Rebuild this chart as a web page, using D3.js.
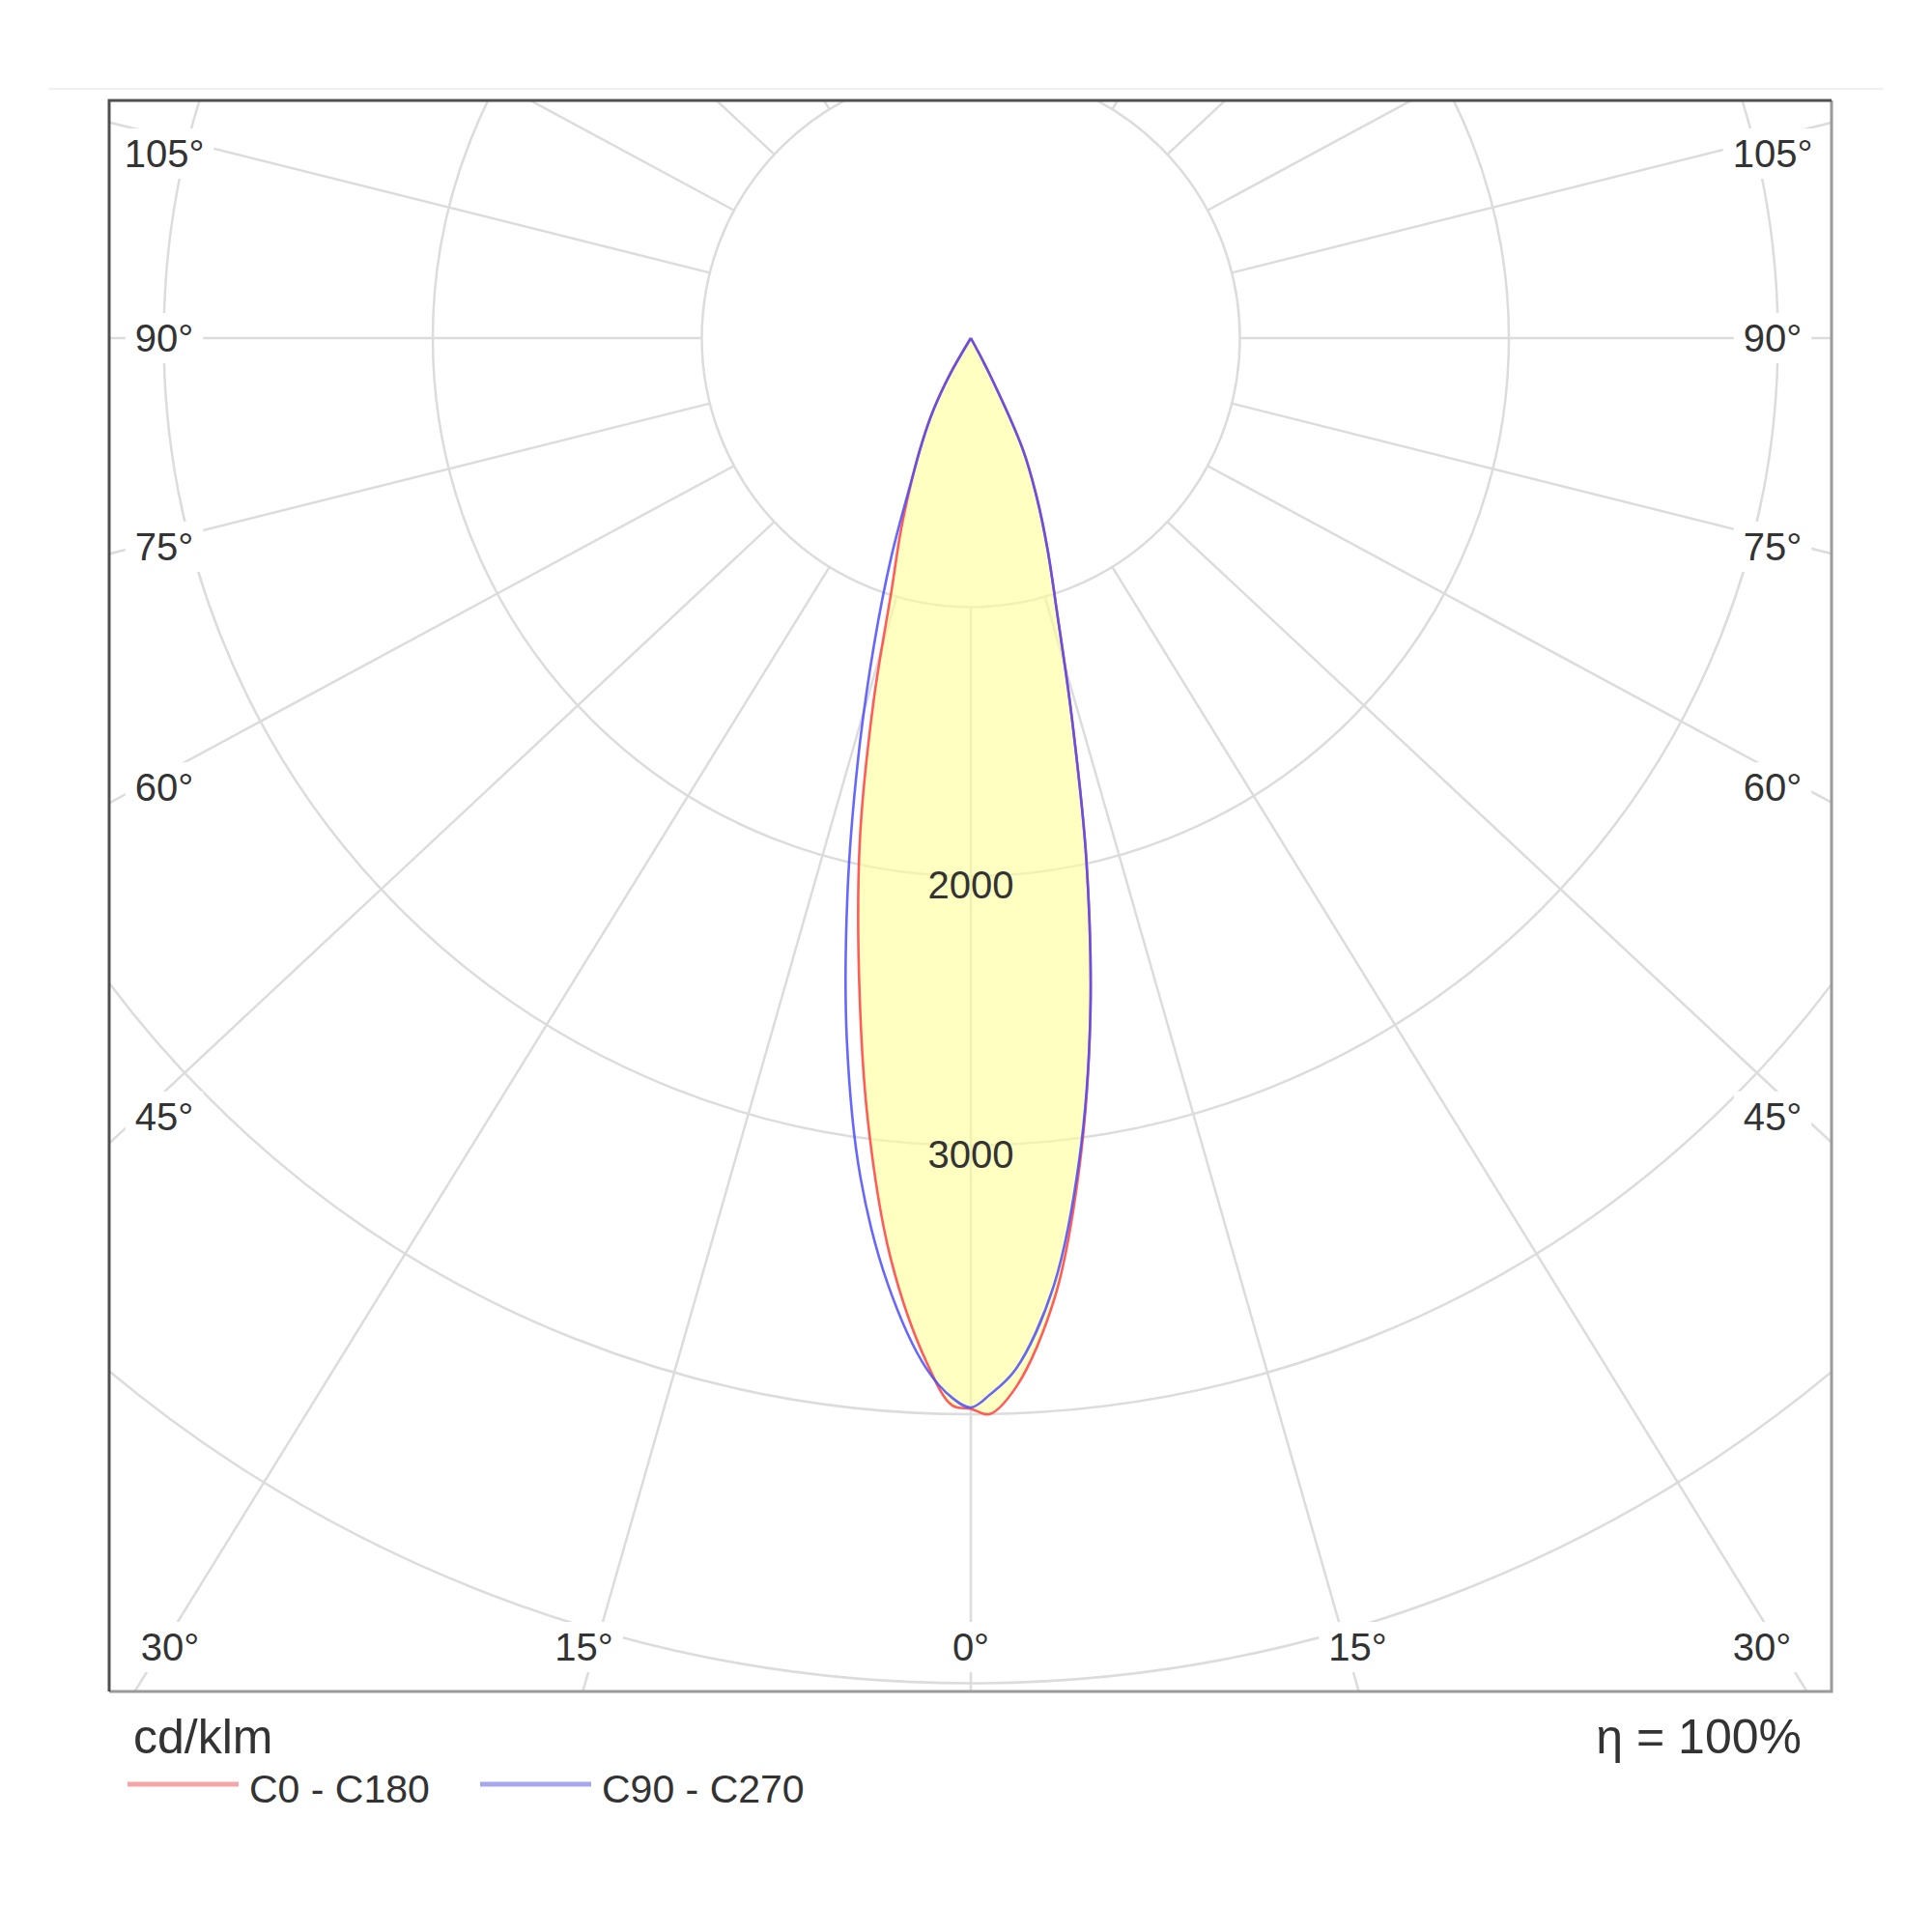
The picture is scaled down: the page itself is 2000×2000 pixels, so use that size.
<!DOCTYPE html>
<html>
<head>
<meta charset="utf-8">
<script src="https://cdn.jsdelivr.net/npm/d3@7"></script>
<style>
  body { margin: 0; background: #fff; }
  svg { display: block; }
  text { font-family: "Liberation Sans", Arial, sans-serif; fill: #333; }
</style>
</head>
<body>
<svg id="chart" width="2000" height="2000"></svg>
<script>
// gamma angle from nadir (deg) and intensity in cd/klm per half plane
const gamma = [0, 1, 2.5, 5, 7.5, 10, 12.5, 15, 17.5, 20, 22.5, 25, 27.5, 30, 32.5]
const c0    = [3980, 4000, 3900, 3580, 3100, 2558, 1983, 1442, 1063, 832, 640, 460, 150, 0, 0]
const c180  = [3980, 3968, 3807, 3430, 2933, 2395, 1904, 1396, 977, 760, 575, 430, 300, 150, 0]
const c90   = [3975, 3930, 3836, 3536, 3084, 2558, 1983, 1442, 1063, 832, 640, 460, 150, 0, 0]
const c270  = [3975, 3940, 3831, 3532, 3145, 2653, 2119, 1619, 1198, 863, 584, 430, 300, 150, 0]

const rings = [1000, 2000, 3000, 4000, 5000]
const ringLabels = [2000, 3000]
const spokes = d3.range(0, 181, 15)
const sideLabels = [45, 60, 75, 90, 105]
const bottomLabels = [-30, -15, 0, 15, 30]
const legend = [
  {name: "C0 - C180", color: "#f5a5a5"},
  {name: "C90 - C270", color: "#a7a7ef"}
]

const frame = {x0: 113, y0: 104, x1: 1896, y1: 1751}
const cx = 1005, cy = 350
const spread = 1.07   // spokes in the source are spread a little sideways
const rad = d => d * Math.PI / 180

const r = d3.scaleLinear().domain([0, 1000]).range([0, 278.5])

const svg = d3.select("#chart")

// faint rule above the frame
svg.append("line")
  .attr("x1", 50).attr("x2", 1950).attr("y1", 92).attr("y2", 92)
  .attr("stroke", "#f0f0f0").attr("stroke-width", 2)

svg.append("clipPath").attr("id", "clip")
  .append("rect")
    .attr("x", frame.x0).attr("y", frame.y0)
    .attr("width", frame.x1 - frame.x0).attr("height", frame.y1 - frame.y0)

const plot = svg.append("g").attr("clip-path", "url(#clip)")
const g = plot.append("g").attr("transform", `translate(${cx},${cy})`)

function spokeDir(deg, side) {
  let dx = side * spread * Math.sin(rad(deg)), dy = Math.cos(rad(deg))
  let n = Math.hypot(dx, dy)
  return [dx / n, dy / n]
}

// grid: rings and spokes
g.selectAll("circle.ring").data(rings)
  .join("circle")
    .classed("ring", true)
    .attr("r", d => r(d))
    .attr("fill", "none")
    .attr("stroke", "#dcdcdc")
    .attr("stroke-width", 2.5)

let spokeData = []
spokes.forEach(a => {
  if (a == 0 || a == 180) spokeData.push({a: a, side: 1})
  else { spokeData.push({a: a, side: -1}); spokeData.push({a: a, side: 1}) }
})
g.selectAll("line.spoke").data(spokeData)
  .join("line")
    .classed("spoke", true)
    .attr("x1", d => spokeDir(d.a, d.side)[0] * r(1000))
    .attr("y1", d => spokeDir(d.a, d.side)[1] * r(1000))
    .attr("x2", d => spokeDir(d.a, d.side)[0] * r(9000))
    .attr("y2", d => spokeDir(d.a, d.side)[1] * r(9000))
    .attr("stroke", "#dcdcdc")
    .attr("stroke-width", 2.5)

// curves
function halfPlanes(left, right) {
  let pts = []
  for (let i = gamma.length - 1; i >= 0; i--) pts.push({a: Math.PI + rad(gamma[i]), v: left[i]})
  for (let i = 1; i < gamma.length; i++) pts.push({a: Math.PI - rad(gamma[i]), v: right[i]})
  // drop repeated points at the pole
  return pts.filter((p, i) => i == 0 || p.v > 0 || pts[i - 1].v > 0)
}
const radial = d3.lineRadial()
  .angle(d => d.a)
  .radius(d => r(d.v))
  .curve(d3.curveCatmullRom)

const planeA = halfPlanes(c180, c0)
const planeB = halfPlanes(c270, c90)

g.append("path")
  .attr("d", radial(planeA) + "Z")
  .attr("fill", "#ffff99")
  .attr("fill-opacity", 0.6)

g.append("path")
  .attr("d", radial(planeA))
  .attr("fill", "none")
  .attr("stroke", "#ff4a4a")
  .attr("stroke-opacity", 0.9)
  .attr("stroke-width", 2.6)

g.append("path")
  .attr("d", radial(planeB))
  .attr("fill", "none")
  .attr("stroke", "#4c4cff")
  .attr("stroke-opacity", 0.85)
  .attr("stroke-width", 2.6)

g.selectAll("text.ringlab").data(ringLabels)
  .join("text")
    .classed("ringlab", true)
    .attr("x", 0)
    .attr("y", d => r(d) + 9)
    .attr("text-anchor", "middle")
    .attr("dominant-baseline", "central")
    .attr("font-size", 40)
    .text(d => d)

// angle labels with white boxes that break the spokes
let angleLabels = []
sideLabels.forEach(a => {
  let dy = 835 * Math.cos(rad(a)) / Math.sin(rad(a)) * 0.965
  let y = Math.max(cy + dy, frame.y0 + 55)
  angleLabels.push({t: a + "°", x: cx - 835, y: y})
  angleLabels.push({t: a + "°", x: cx + 830, y: y})
})
bottomLabels.forEach(a => {
  let x = cx + 1355 * spread * Math.tan(rad(a)) + Math.sign(a) * 12
  x = Math.min(Math.max(x, frame.x0 + 63), frame.x1 - 72)
  angleLabels.push({t: Math.abs(a) + "°", x: x, y: 1705})
})

const lab = plot.selectAll("g.alab").data(angleLabels)
  .join("g")
    .classed("alab", true)
    .attr("transform", d => `translate(${d.x},${d.y})`)
lab.append("text")
  .attr("text-anchor", "middle")
  .attr("dominant-baseline", "central")
  .attr("font-size", 40)
  .text(d => d.t)
lab.each(function() {
  let t = d3.select(this).select("text")
  let b = t.node().getBBox()
  d3.select(this).insert("rect", "text")
    .attr("x", b.x - 10).attr("y", b.y - 4)
    .attr("width", b.width + 20).attr("height", b.height + 8)
    .attr("fill", "#fff")
})

// frame
svg.append("path")
  .attr("d", `M${frame.x1},${frame.y0}V${frame.y1}H${frame.x0}`)
  .attr("fill", "none").attr("stroke", "#9a9a9a").attr("stroke-width", 3)
svg.append("path")
  .attr("d", `M${frame.x0},${frame.y1}V${frame.y0}H${frame.x1}`)
  .attr("fill", "none").attr("stroke", "#505050").attr("stroke-width", 3)

// footer
svg.append("text")
  .attr("x", 138).attr("y", 1815)
  .attr("font-size", 50)
  .text("cd/klm")
svg.append("text")
  .attr("x", 1865).attr("y", 1815)
  .attr("text-anchor", "end")
  .attr("font-size", 50)
  .text("η = 100%")

const leg = svg.selectAll("g.leg").data(legend)
  .join("g")
    .classed("leg", true)
    .attr("transform", (d, i) => `translate(${132 + i * 365},1847)`)
leg.append("line")
  .attr("x1", 0).attr("x2", 115)
  .attr("stroke", d => d.color)
  .attr("stroke-width", 5)
leg.append("text")
  .attr("x", 126).attr("y", 19)
  .attr("font-size", 41)
  .text(d => d.name)
</script>
</body>
</html>
